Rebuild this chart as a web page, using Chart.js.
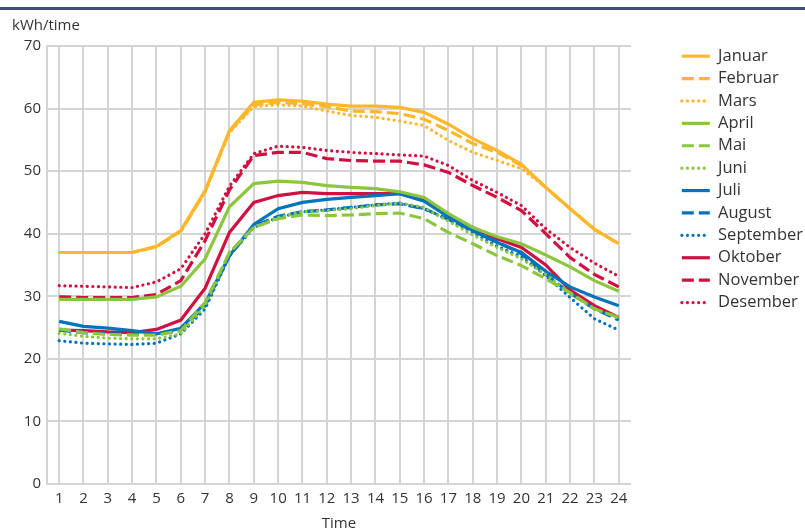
<!DOCTYPE html>
<html>
<head>
<meta charset="utf-8">
<script src="https://cdn.jsdelivr.net/npm/chart.js@4"></script>
<style>
  html, body { margin: 0; padding: 0; background: #fff; }
  #wrap { position: relative; width: 805px; height: 530px; overflow: hidden; }
  #topline { position: absolute; left: 0; top: 7px; width: 805px; height: 3px; background: #3d5078; }
</style>
</head>
<body>
<div id="wrap">
  <canvas id="chart" width="805" height="530"></canvas>
  <div id="topline"></div>
</div>
<script>
// timer og verdier (kWh/time) per måned
const hours = ["1","2","3","4","5","6","7","8","9","10","11","12","13","14","15","16","17","18","19","20","21","22","23","24"];

const januar   = [37.0, 37.0, 37.0, 37.0, 38.0, 40.5, 46.9, 56.5, 61.0, 61.4, 61.2, 60.7, 60.4, 60.4, 60.2, 59.4, 57.5, 55.2, 53.3, 51.1, 47.4, 44.0, 40.7, 38.4];
const februar  = [37.0, 37.0, 37.0, 37.0, 37.9, 40.4, 46.7, 56.3, 60.6, 61.0, 60.8, 60.3, 59.6, 59.5, 59.2, 58.3, 56.5, 54.4, 53.0, 50.9, 47.4, 44.0, 40.7, 38.4];
const mars     = [37.0, 37.0, 37.0, 37.0, 37.9, 40.4, 46.7, 56.2, 60.3, 60.6, 60.4, 59.6, 58.9, 58.6, 58.0, 57.3, 54.9, 53.0, 51.7, 50.4, 47.4, 44.0, 40.7, 38.4];
const april    = [29.5, 29.5, 29.5, 29.5, 29.9, 31.6, 36.0, 44.3, 48.0, 48.4, 48.2, 47.7, 47.4, 47.2, 46.7, 45.8, 43.2, 41.0, 39.5, 38.4, 36.6, 34.7, 32.5, 30.8];
const mai      = [24.8, 24.2, 23.9, 23.8, 23.8, 24.5, 29.0, 37.0, 41.0, 42.4, 43.0, 42.9, 43.0, 43.2, 43.3, 42.4, 40.2, 38.4, 36.5, 34.9, 32.8, 30.6, 28.0, 26.6];
const juni     = [24.1, 23.6, 23.3, 23.2, 23.2, 24.0, 28.5, 37.0, 41.0, 42.6, 43.5, 43.7, 44.0, 44.5, 44.9, 44.2, 42.0, 39.8, 37.8, 36.0, 33.5, 30.4, 28.0, 26.6];
const juli     = [26.0, 25.2, 24.9, 24.5, 24.0, 24.9, 28.9, 36.5, 41.5, 44.0, 45.0, 45.5, 45.8, 46.1, 46.4, 45.2, 42.7, 40.5, 38.6, 37.0, 34.0, 31.5, 29.9, 28.5];
const august   = [24.6, 24.2, 24.0, 23.9, 23.9, 24.6, 28.5, 36.5, 41.2, 42.8, 43.5, 43.8, 44.2, 44.6, 44.8, 44.0, 42.3, 40.5, 38.7, 36.8, 33.5, 30.5, 28.0, 26.2];
const september= [22.9, 22.5, 22.4, 22.3, 22.5, 24.0, 28.0, 36.5, 41.0, 42.6, 43.5, 43.8, 44.2, 44.6, 44.9, 44.0, 42.2, 40.2, 38.0, 36.3, 33.3, 29.8, 26.4, 24.6];
const oktober  = [24.6, 24.5, 24.3, 24.2, 24.7, 26.2, 31.3, 40.2, 45.0, 46.1, 46.6, 46.4, 46.4, 46.4, 46.4, 45.3, 43.0, 41.0, 39.2, 37.8, 35.0, 31.0, 28.5, 26.6];
const november = [29.9, 29.8, 29.8, 29.8, 30.3, 32.5, 38.9, 47.0, 52.5, 53.0, 53.0, 52.0, 51.7, 51.6, 51.6, 51.0, 49.8, 47.7, 45.8, 43.7, 40.0, 36.2, 33.5, 31.5];
const desember = [31.7, 31.6, 31.5, 31.4, 32.3, 34.4, 40.0, 47.6, 52.8, 54.0, 53.8, 53.3, 53.0, 52.8, 52.6, 52.4, 50.9, 48.5, 46.6, 44.5, 40.8, 37.8, 35.3, 33.2];

const yTicks = [0, 10, 20, 30, 40, 50, 60, 70];

const orange = "#fdb72a";
const green = "#8cc63f";
const blue = "#0073bd";
const red = "#cf1040";

const solid = [];
const dashed = [12, 5];
const dotted = [0.1, 5.5];

function serie(label, data, color, dash) {
  return {
    label: label,
    data: data,
    borderColor: color,
    backgroundColor: color,
    borderWidth: 3.2,
    borderDash: dash,
    borderCapStyle: dash === dotted ? "round" : "butt",
    pointRadius: 0,
    pointHoverRadius: 0,
    tension: 0,
    fill: false,
  };
}

// legenden skal stå litt til høyre for plottet
const legendGap = 37;
const legendShift = {
  id: "legendShift",
  beforeInit(chart) {
    const fit = chart.legend.fit;
    chart.legend.fit = function () {
      fit.call(this);
      this.width += legendGap;
    };
  },
  afterLayout(chart) {
    chart.legend.left += legendGap + 8;
    chart.legend.top -= 4;
    chart.legend.bottom -= 4;
  },
};

Chart.defaults.font.family = "'Open Sans', 'Noto Sans', sans-serif";
Chart.defaults.color = "#333";

const ctx = document.getElementById("chart").getContext("2d");
const chart = new Chart(ctx, {
  type: "line",
  data: {
    labels: hours,
    datasets: [
      serie("Januar", januar, orange, solid),
      serie("Februar", februar, orange, dashed),
      serie("Mars", mars, orange, dotted),
      serie("April", april, green, solid),
      serie("Mai", mai, green, dashed),
      serie("Juni", juni, green, dotted),
      serie("Juli", juli, blue, solid),
      serie("August", august, blue, dashed),
      serie("September", september, blue, dotted),
      serie("Oktober", oktober, red, solid),
      serie("November", november, red, dashed),
      serie("Desember", desember, red, dotted),
    ],
  },
  plugins: [legendShift],
  options: {
    responsive: false,
    animation: false,
    layout: {
      padding: { left: 12, top: 17, right: 0, bottom: -3 },
    },
    plugins: {
      title: {
        display: true,
        text: "kWh/time",
        align: "start",
        color: "#333",
        font: { size: 15, weight: "normal" },
        padding: { top: 0, bottom: 11 },
      },
      legend: {
        position: "right",
        align: "start",
        fullSize: false,
        labels: {
          usePointStyle: true,
          pointStyle: "line",
          pointStyleWidth: 28,
          padding: 5.9,
          color: "#333",
          font: { size: 16.5 },
          generateLabels: (chart) => {
            const items = Chart.defaults.plugins.legend.labels.generateLabels(chart);
            items.forEach((item) => {
              const ds = chart.data.datasets[item.datasetIndex];
              item.lineDash = ds.borderDash;
              item.lineWidth = ds.borderWidth;
              item.lineCap = ds.borderCapStyle;
              item.strokeStyle = ds.borderColor;
              item.pointStyle = "line";
            });
            return items;
          },
        },
      },
      tooltip: { enabled: false },
    },
    scales: {
      x: {
        offset: true,
        grid: {
          offset: false,
          color: "#d4d4d4",
          lineWidth: 2,
          drawTicks: false,
        },
        border: { display: false },
        ticks: {
          autoSkip: false,
          maxRotation: 0,
          padding: 6,
          font: { size: 15 },
        },
        title: {
          display: true,
          text: "Time",
          font: { size: 15 },
          padding: { top: 1, bottom: 0 },
        },
      },
      y: {
        min: 0,
        max: 70,
        afterBuildTicks: (axis) => {
          axis.ticks = yTicks.map((v) => ({ value: v }));
        },
        afterFit: (axis) => {
          axis.width = 35;
        },
        grid: {
          color: "#d4d4d4",
          lineWidth: 2,
          drawTicks: false,
        },
        border: { color: "#d4d4d4", width: 2 },
        ticks: {
          padding: 6,
          font: { size: 15 },
        },
      },
    },
  },
});
</script>
</body>
</html>
